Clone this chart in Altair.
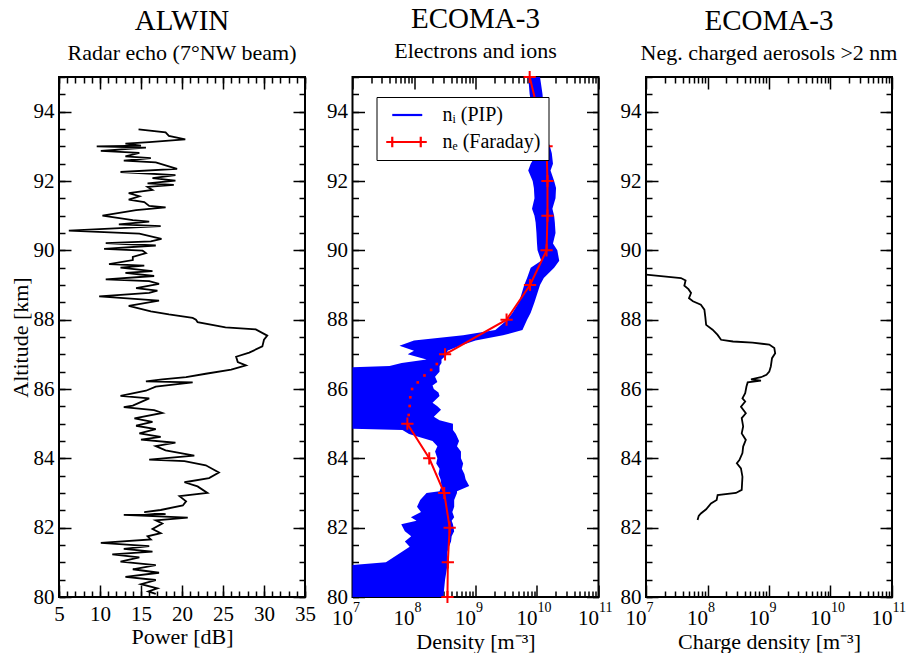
import altair as alt
import pandas as pd

# ---------------- Panel 1: ALWIN radar echo ----------------
radar_alt = [93.49, 93.40, 93.30, 93.20, 93.12, 93.08, 93.02, 93.00, 92.96, 92.87,
             92.81, 92.71, 92.66, 92.59, 92.54, 92.35, 92.26, 92.17, 92.08, 92.01,
             91.93, 91.89, 91.83, 91.74, 91.65, 91.56, 91.46, 91.39, 91.28, 91.24,
             91.16, 91.00, 90.87, 90.83, 90.75, 90.70, 90.57, 90.48, 90.33, 90.26,
             90.21, 90.14, 90.04, 89.99, 89.92, 89.81, 89.72, 89.60, 89.56, 89.50,
             89.40, 89.35, 89.26, 89.16, 89.11, 89.03, 88.91, 88.84, 88.77, 88.67,
             88.55, 88.40, 88.24, 88.15, 88.05, 88.00, 87.93, 87.78, 87.72, 87.54,
             87.42, 87.23, 87.05, 86.93, 86.78, 86.68, 86.56, 86.44, 86.34, 86.28,
             86.22, 86.19, 86.07, 85.95, 85.80, 85.73, 85.52, 85.48, 85.39, 85.31,
             85.15, 85.05, 84.94, 84.84, 84.72, 84.62, 84.54, 84.45, 84.35, 84.23,
             84.08, 83.96, 83.92, 83.80, 83.59, 83.43, 83.31, 83.19, 83.00, 82.91,
             82.76, 82.64, 82.51, 82.45, 82.39, 82.37, 82.29, 82.21, 82.12, 81.96,
             81.84, 81.75, 81.66, 81.56, 81.47, 81.39, 81.31, 81.23, 81.14, 81.02,
             80.92, 80.80, 80.70, 80.58, 80.49, 80.37, 80.25, 80.16, 80.09]
radar_power = [14.7, 18.0, 18.4, 20.4, 16.0, 13.1, 15.0, 9.6, 15.6, 10.1,
               14.8, 13.1, 16.2, 12.9, 16.8, 19.4, 12.5, 19.2, 16.4, 19.2,
               15.8, 19.0, 15.8, 16.4, 13.5, 14.8, 13.5, 15.4, 16.0, 18.0,
               14.4, 10.3, 14.0, 16.0, 12.3, 17.4, 6.2, 14.8, 17.5, 16.2,
               10.7, 16.8, 10.5, 15.2, 15.6, 14.0, 14.0, 11.1, 15.4, 12.5,
               16.4, 13.1, 16.6, 10.7, 16.0, 17.2, 14.4, 17.0, 16.0, 9.9,
               17.2, 13.5, 16.2, 18.4, 21.3, 21.7, 21.9, 25.3, 29.0, 30.4,
               30.0, 29.8, 28.2, 26.6, 26.8, 27.8, 26.0, 22.9, 20.5, 17.6,
               15.6, 21.3, 16.8, 15.6, 12.5, 16.0, 14.0, 12.9, 16.6, 17.6,
               14.2, 16.4, 14.4, 16.8, 14.8, 17.4, 15.0, 19.2, 16.8, 18.0,
               21.5, 16.0, 20.3, 22.9, 24.5, 23.3, 20.3, 21.9, 23.1, 19.7,
               20.5, 20.1, 17.4, 15.4, 18.0, 12.9, 20.7, 16.8, 17.6, 16.4,
               17.4, 15.8, 16.2, 10.1, 16.0, 12.9, 16.4, 11.5, 14.8, 12.5,
               16.8, 14.0, 17.2, 13.1, 16.8, 15.0, 17.0, 15.9, 16.8]

# ---------------- Panel 2: ECOMA-3 electrons and ions ----------------
# PIP ion density: left / right edge of the noisy trace
pip_alt = [95.0, 94.5, 94.0, 93.5, 93.2, 93.0, 92.8, 92.5, 92.3, 92.0,
           91.8, 91.5, 91.2, 91.0, 90.8, 90.5, 90.2, 90.0, 89.7, 89.5,
           89.2, 89.0, 88.5, 88.2, 88.0, 87.7, 87.55, 87.4, 87.25, 87.1,
           87.0, 86.85, 86.75, 86.66, 86.63, 86.5, 86.35, 86.2, 86.1, 86.0,
           85.9, 85.8, 85.6, 85.5, 85.4, 85.2, 85.1, 85.0, 84.85, 84.82,
           84.7, 84.5, 84.35, 84.2, 84.0, 83.85, 83.7, 83.55, 83.4, 83.2,
           83.05, 83.0, 82.8, 82.6, 82.45, 82.3, 82.2, 82.1, 81.9, 81.75,
           81.6, 81.45, 81.3, 81.0, 80.92, 80.5, 80.0]
pip_lo = [7.2e9, 7.6e9, 8.5e9, 9.1e9, 8.5e9, 9.1e9, 1.0e10, 7.9e9, 7.2e9, 8.5e9,
          8.9e9, 9.1e9, 8.3e9, 9.1e9, 9.5e9, 9.8e9, 1.0e10, 1.02e10, 1.17e10, 7.9e9,
          6.9e9, 6.2e9, 5.1e9, 4.0e9, 3.3e9, 2.1e9, 6.3e8, 1.0e8, 5.8e7, 1.0e8,
          7.9e7, 1.6e8, 6.3e7, 4.0e7, 1e7, 1e7, 1e7, 1e7, 1e7, 1e7,
          1e7, 1e7, 1e7, 1e7, 1e7, 1e7, 1e7, 1e7, 1e7, 6.5e7,
          8.3e7, 2.0e8, 2.4e8, 2.2e8, 2.4e8, 2.3e8, 2.6e8, 2.5e8, 2.7e8, 2.8e8,
          2.6e8, 1.6e8, 1.26e8, 1.12e8, 1.3e8, 8.9e7, 1.1e8, 6.2e7, 7.1e7, 9.0e7,
          7.1e7, 8.5e7, 6.3e7, 3.5e7, 1e7, 1e7, 1e7]
pip_hi = [1.12e10, 1.23e10, 1.29e10, 1.38e10, 1.48e10, 1.62e10, 1.74e10, 1.82e10, 1.66e10, 1.9e10,
          2.04e10, 2.0e10, 1.78e10, 1.9e10, 1.95e10, 2.0e10, 1.82e10, 2.14e10, 2.3e10, 1.9e10,
          1.29e10, 1.12e10, 9.1e9, 7.9e9, 6.9e9, 5.8e9, 2.8e9, 1.0e9, 5.6e8, 3.5e8,
          3.5e8, 2.8e8, 2.8e8, 2.6e8, 2.6e8, 2.6e8, 2.2e8, 2.4e8, 2.0e8, 2.1e8,
          2.5e8, 2.6e8, 2.0e8, 2.4e8, 2.75e8, 2.1e8, 2.6e8, 4.3e8, 4.3e8, 4.3e8,
          4.8e8, 5.4e8, 5.0e8, 5.8e8, 5.8e8, 6.3e8, 6.0e8, 6.6e8, 6.9e8, 7.9e8,
          5.0e8, 5.0e8, 4.5e8, 4.5e8, 4.2e8, 4.5e8, 4.1e8, 4.3e8, 4.5e8, 4.1e8,
          4.0e8, 3.7e8, 3.5e8, 3.5e8, 3.5e8, 3.2e8, 3.0e8]

# Faraday electron density (markers every km)
far_alt = [80, 81, 82, 83, 84, 85, 87, 88, 89, 90, 91, 92, 93, 95]
far_ne = [3.5e8, 3.55e8, 3.8e8, 3.1e8, 1.77e8, 7.8e7,
          3.2e8, 3.2e9, 7.7e9, 1.43e10, 1.48e10, 1.48e10, 1.43e10, 7.6e9]
far_part = ["lower"] * 6 + ["upper"] * 8

# dotted stretch between 85 and 87 km
gap_alt = [85.25, 85.51, 85.76, 86.0, 86.19, 86.39, 86.55, 86.72]
gap_ne = [8.2e7, 8.5e7, 8.7e7, 9.3e7, 1.15e8, 1.48e8, 1.9e8, 2.35e8]

# ---------------- Panel 3: negatively charged aerosols ----------------
aer_alt = [89.30, 89.20, 89.13, 88.98, 88.88, 88.77, 88.62, 88.53, 88.43, 88.29,
           88.09, 87.85, 87.71, 87.56, 87.42, 87.37, 87.34, 87.28, 87.18, 87.03,
           86.89, 86.65, 86.50, 86.41, 86.34, 86.28, 86.24, 86.19, 86.07, 85.88,
           85.73, 85.64, 85.49, 85.30, 85.16, 84.92, 84.72, 84.53, 84.34, 84.15,
           83.95, 83.86, 83.71, 83.47, 83.09, 83.00, 82.94, 82.80, 82.70, 82.53,
           82.41, 82.34, 82.22]
aer_rho = [1.0e7, 3.7e7, 4.4e7, 4.2e7, 4.9e7, 5.4e7, 5.0e7, 5.8e7, 7.8e7, 8.9e7,
           9.2e7, 9.5e7, 1.21e8, 1.46e8, 1.66e8, 2.6e8, 5.4e8, 1.01e9, 1.22e9, 1.26e9,
           1.12e9, 1.07e9, 1.01e9, 9.1e8, 7.4e8, 5.1e8, 7.4e8, 4.5e8, 4.3e8, 4.1e8,
           3.7e8, 4.1e8, 3.5e8, 4.2e8, 3.6e8, 3.8e8, 3.6e8, 4.2e8, 3.8e8, 3.7e8,
           3.3e8, 3.0e8, 3.5e8, 3.7e8, 3.6e8, 2.9e8, 1.46e8, 1.41e8, 1.14e8, 9.5e7,
           7.8e7, 7.2e7, 6.9e7]

# ---------------- axes / ticks ----------------
y_major = [80, 82, 84, 86, 88, 90, 92, 94]
y_minor = [80 + 0.5 * i for i in range(31)]
pow_major = [5, 10, 15, 20, 25, 30, 35]
pow_minor = list(range(5, 36))
dens_major = [1e7, 1e8, 1e9, 1e10, 1e11]
dens_minor = [m * 10 ** e for e in range(7, 11) for m in range(2, 10)]

SER_I = "nᵢ (PIP)"
SER_E = "nₑ (Faraday)"

FONT = "Liberation Serif"
W, H = 246, 520
MAJ, MIN = 12, 6
LAB = 21
TIT = 22

exp_expr = ("datum.value < 5e7 ? '7' : datum.value < 5e8 ? '8' : "
            "datum.value < 5e9 ? '9' : datum.value < 5e10 ? '10' : '11'")

yscale = alt.Scale(domain=[80, 95], nice=False, zero=False)
pow_scale = alt.Scale(domain=[5, 35], nice=False, zero=False)
log_scale = alt.Scale(type="log", domain=[1e7, 1e11], nice=False)


def make_axis(orient, values, size, labels, title, **extra):
    kw = dict(orient=orient, values=values, tickSize=size, offset=-size,
              domain=False, grid=False, labels=labels, ticks=True,
              tickColor="black", tickWidth=1.5, labelFlush=False,
              labelOverlap=False,
              labelFont=FONT, labelFontSize=LAB, labelColor="black",
              labelPadding=5, titleFont=FONT, titleFontSize=TIT,
              titleFontWeight="normal", titleColor="black", titlePadding=1,
              title=title)
    kw.update(extra)
    return alt.Axis(**kw)


def frame_layers(df, xf, yf, xscale, xmaj, xmin, xtitle, ytitle, logx=False):
    if logx:
        xlab = dict(labelExpr="'10'", labelAlign="right", labelOffset=0,
                    labelPadding=10, titlePadding=3)
    else:
        xlab = dict(labelPadding=6, titlePadding=2)
    specs = [
        (make_axis("bottom", xmaj, MAJ, True, xtitle, **xlab),
         make_axis("left", y_major, MAJ, True, ytitle)),
        (make_axis("bottom", xmin, MIN, False, None),
         make_axis("left", y_minor, MIN, False, None)),
        (make_axis("top", xmaj, MAJ, False, None),
         make_axis("right", y_major, MAJ, False, None)),
        (make_axis("top", xmin, MIN, False, None),
         make_axis("right", y_minor, MIN, False, None)),
    ]
    out = []
    for xa, ya in specs:
        out.append(
            alt.Chart(df).mark_point(opacity=0).encode(
                x=alt.X(xf, type="quantitative", scale=xscale, axis=xa),
                y=alt.Y(yf, type="quantitative", scale=yscale, axis=ya),
            )
        )
    if logx:
        # raised exponents of the decade labels
        exp_axis = alt.Axis(orient="bottom", values=xmaj, tickSize=0, offset=0,
                            domain=False, grid=False, ticks=True, labels=True,
                            labelExpr=exp_expr, labelAlign="left",
                            labelOffset=0, labelPadding=3, labelFlush=False,
                            labelOverlap=False, labelFont=FONT,
                            labelFontSize=14, labelColor="black", title=None)
        out.append(
            alt.Chart(df).mark_point(opacity=0).encode(
                x=alt.X(xf, type="quantitative", scale=xscale, axis=exp_axis),
                y=alt.Y(yf, type="quantitative", scale=yscale, axis=None),
            )
        )
    return out


def title(text, sub, offset=12):
    return alt.Title(text=text, subtitle=sub, font=FONT, fontSize=29,
                     fontWeight="normal", color="black", subtitleFont=FONT,
                     subtitleFontSize=22, subtitleColor="black",
                     subtitlePadding=7, anchor="middle", offset=offset)


# Panel 1
df1 = pd.DataFrame({"alt": radar_alt, "power": radar_power})
line1 = alt.Chart(df1).mark_line(color="black", strokeWidth=1.8).encode(
    x=alt.X("power:Q", scale=pow_scale, axis=None),
    y=alt.Y("alt:Q", scale=yscale, axis=None),
    order="alt:Q",
)
panel1 = alt.layer(
    *frame_layers(df1, "power", "alt", pow_scale, pow_major, pow_minor,
                  "Power [dB]", "Altitude [km]"),
    line1,
).resolve_axis(x="independent", y="independent").properties(
    width=W, height=H, title=title("ALWIN", "Radar echo (7°NW beam)"))

# Panel 2
df_pip = pd.DataFrame({"alt": pip_alt, "lo": pip_lo, "hi": pip_hi})
df_far = pd.DataFrame({"alt": far_alt, "ne": far_ne, "part": far_part,
                       "series": [SER_E] * len(far_alt)})
df_gap = pd.DataFrame({"alt": gap_alt, "ne": gap_ne})

color_scale = alt.Scale(domain=[SER_I, SER_E], range=["#0000ff", "#ff0000"])
BLUE_PATH = "M-0.3,0L3.7,0"
RED_PATH = "M-1.1,0L4.3,0M-0.3,-0.7L-0.3,0.7M3.5,-0.7L3.5,0.7"
sym_expr = ("datum.value === '" + SER_E + "' ? '" + RED_PATH + "' : '" + BLUE_PATH + "'")

area2 = alt.Chart(df_pip).mark_area(orient="horizontal", color="#0000ff",
                                    opacity=1).encode(
    y=alt.Y("alt:Q", scale=yscale, axis=None),
    x=alt.X("lo:Q", scale=log_scale, axis=None),
    x2="hi:Q",
)
line2 = alt.Chart(df_far).mark_line(strokeWidth=2).encode(
    y=alt.Y("alt:Q", scale=yscale, axis=None),
    x=alt.X("ne:Q", scale=log_scale, axis=None),
    detail="part:N",
    order="alt:Q",
    color=alt.Color(
        "series:N", scale=color_scale,
        legend=alt.Legend(
            title=None, orient="none", legendX=24, legendY=20,
            direction="vertical", fillColor="white", strokeColor="black",
            padding=8, labelFont=FONT, labelFontSize=20, labelColor="black",
            symbolType=alt.ExprRef(expr=sym_expr), symbolSize=225,
            symbolStrokeWidth=2.2, labelOffset=38, rowPadding=7,
        ),
    ),
)
marks2 = alt.Chart(df_far).mark_point(
    shape="M-1,0L1,0M0,-1L0,1", size=150, filled=False, strokeWidth=2,
    color="#ff0000", opacity=1).encode(
    y=alt.Y("alt:Q", scale=yscale, axis=None),
    x=alt.X("ne:Q", scale=log_scale, axis=None),
)
dots2 = alt.Chart(df_gap).mark_square(size=7, color="#ff0000", opacity=1).encode(
    y=alt.Y("alt:Q", scale=yscale, axis=None),
    x=alt.X("ne:Q", scale=log_scale, axis=None),
)
# the top marker pokes 7 px above the frame, so this title needs less offset
panel2 = alt.layer(
    *frame_layers(df_far, "ne", "alt", log_scale, dens_major, dens_minor,
                  "Density [m⁻³]", None, logx=True),
    area2, line2, dots2, marks2,
).resolve_axis(x="independent", y="independent").properties(
    width=W, height=H, title=title("ECOMA-3", "Electrons and ions", offset=5))

# Panel 3
df3 = pd.DataFrame({"alt": aer_alt, "rho": aer_rho})
line3 = alt.Chart(df3).mark_line(color="black", strokeWidth=1.8).encode(
    x=alt.X("rho:Q", scale=log_scale, axis=None),
    y=alt.Y("alt:Q", scale=yscale, axis=None),
    order="alt:Q",
)
panel3 = alt.layer(
    *frame_layers(df3, "rho", "alt", log_scale, dens_major, dens_minor,
                  "Charge density [m⁻³]", None, logx=True),
    line3,
).resolve_axis(x="independent", y="independent").properties(
    width=W, height=H,
    title=title("ECOMA-3", "Neg. charged aerosols >2 nm"))

chart = alt.hconcat(panel1, panel2, panel3, spacing=47.5, bounds="flush").resolve_scale(
    x="independent", y="independent", color="independent"
).resolve_legend(color="independent").configure_view(
    stroke="black", strokeWidth=2
).properties(background="white",
             padding={"left": 0, "top": -5, "right": 0, "bottom": 0})

chart.save("out.html", embed_options={"renderer": "svg", "actions": False})
